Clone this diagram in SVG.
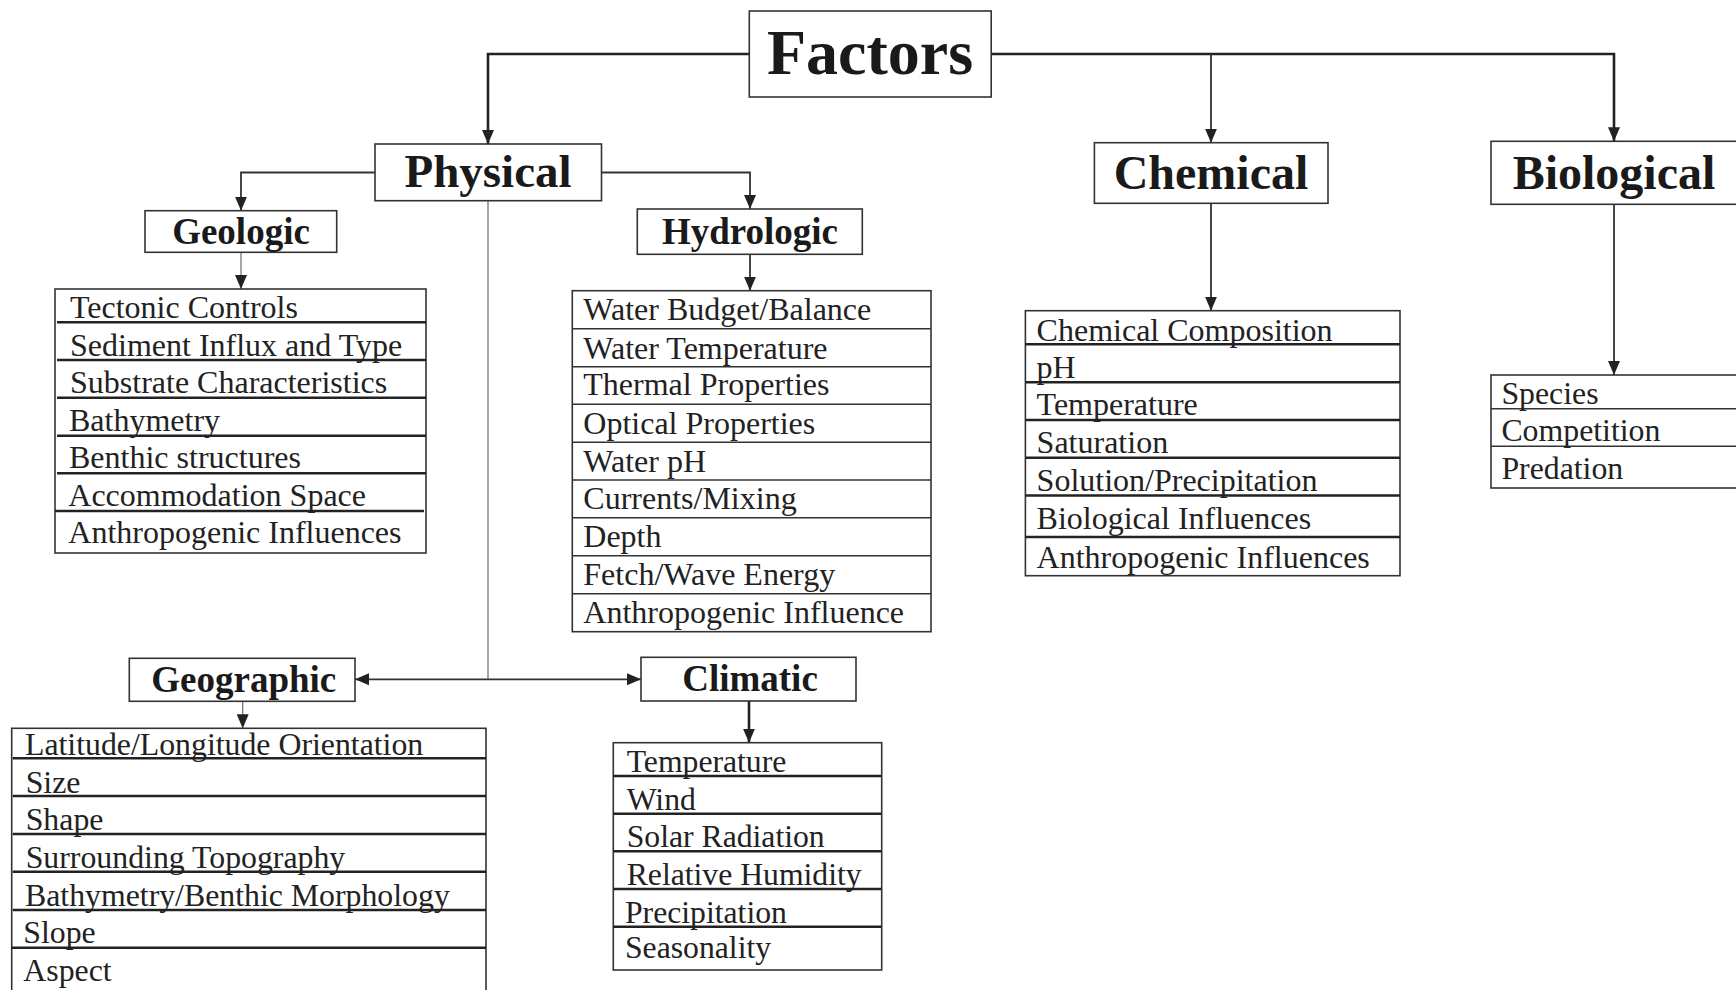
<svg xmlns="http://www.w3.org/2000/svg" width="1736" height="990" viewBox="0 0 1736 990">
<style>
  .box { fill: #fff; stroke: #333; stroke-width: 1.6; }
  .hdr { font-family: "Liberation Serif", "Times New Roman", serif; font-weight: bold; fill: #1a1a1a; text-anchor: middle; }
  .item { font-family: "Liberation Serif", "Times New Roman", serif; fill: #222; }
  .rowT { stroke: #222; stroke-width: 2.6; }
  .rowt { stroke: #333; stroke-width: 1.5; }
  .conn { fill: none; stroke: #333; stroke-width: 1.8; }
  .connT { fill: none; stroke: #222; stroke-width: 2.6; }
  .connL { fill: none; stroke: #777; stroke-width: 1.3; }
</style>
<defs>
  <marker id="arr" viewBox="0 0 14 12" refX="14" refY="6" markerWidth="14" markerHeight="12" markerUnits="userSpaceOnUse" orient="auto">
    <path d="M0,0 L14,6 L0,12 z" fill="#222"/>
  </marker>
</defs>
<rect width="1736" height="990" fill="#fff"/>

<g id="connectors">
  <path class="connT" d="M749.3,54 H488 V144" marker-end="url(#arr)"/>
  <path class="connT" d="M991,54 H1614 V141.3" marker-end="url(#arr)"/>
  <path class="conn" d="M1211,54 V142.7" marker-end="url(#arr)"/>
  <path class="conn" d="M375,172.5 H241 V210.7" marker-end="url(#arr)"/>
  <path class="conn" d="M601.5,172.5 H750 V209" marker-end="url(#arr)"/>
  <path class="connL" d="M241,252.3 V289" marker-end="url(#arr)"/>
  <path class="conn" d="M750,254.3 V290.7" marker-end="url(#arr)"/>
  <path class="connL" d="M488,200.7 V679.3"/>
  <path class="conn" d="M488,679.3 H355" marker-end="url(#arr)"/>
  <path class="conn" d="M488,679.3 H641" marker-end="url(#arr)"/>
  <path class="connL" d="M242.7,701.3 V728.3" marker-end="url(#arr)"/>
  <path class="connT" d="M749,701 V742.7" marker-end="url(#arr)"/>
  <path class="conn" d="M1211,203.3 V310.7" marker-end="url(#arr)"/>
  <path class="conn" d="M1614,204.3 V375" marker-end="url(#arr)"/>
</g>

<g id="factors">
  <rect class="box" x="749.3" y="11" width="241.9" height="86"/>
  <text class="hdr" x="870" y="74" font-size="64">Factors</text>
</g>
<g id="physical">
  <rect class="box" x="375" y="144" width="226.5" height="56.7"/>
  <text class="hdr" x="488" y="186.7" font-size="47">Physical</text>
</g>
<g id="chemical">
  <rect class="box" x="1094.4" y="142.7" width="233.6" height="60.6"/>
  <text class="hdr" x="1211" y="189" font-size="48">Chemical</text>
</g>
<g id="biological">
  <rect class="box" x="1491" y="141.3" width="260" height="63"/>
  <text class="hdr" x="1614" y="189" font-size="48">Biological</text>
</g>
<g id="geologic">
  <rect class="box" x="145" y="210.7" width="191.7" height="41.6"/>
  <text class="hdr" x="241" y="244" font-size="37">Geologic</text>
</g>
<g id="hydrologic">
  <rect class="box" x="637.3" y="209" width="225" height="45.3"/>
  <text class="hdr" x="750" y="244" font-size="37">Hydrologic</text>
</g>
<g id="geographic">
  <rect class="box" x="129.3" y="658.3" width="225.7" height="43"/>
  <text class="hdr" x="243.8" y="691.7" font-size="37">Geographic</text>
</g>
<g id="climatic">
  <rect class="box" x="641" y="657.3" width="215" height="43.7"/>
  <text class="hdr" x="750" y="690.7" font-size="37">Climatic</text>
</g>

<g id="geologic-list">
  <rect class="box" x="55" y="289" width="371" height="264"/>
  <line class="rowT" x1="57" y1="322.3" x2="426" y2="322.3"/>
  <line class="rowT" x1="57" y1="360" x2="426" y2="360"/>
  <line class="rowT" x1="57" y1="397.7" x2="426" y2="397.7"/>
  <line class="rowT" x1="57" y1="435.7" x2="426" y2="435.7"/>
  <line class="rowT" x1="57" y1="473.3" x2="426" y2="473.3"/>
  <line class="rowT" x1="55" y1="511" x2="424" y2="511"/>
  <g class="item" font-size="32">
    <text x="70" y="317.7">Tectonic Controls</text>
    <text x="70" y="355.7">Sediment Influx and Type</text>
    <text x="70" y="392.7">Substrate Characteristics</text>
    <text x="69" y="430.7">Bathymetry</text>
    <text x="69" y="468.3">Benthic structures</text>
    <text x="68.3" y="505.7">Accommodation Space</text>
    <text x="68.3" y="543.3">Anthropogenic Influences</text>
  </g>
</g>

<g id="hydrologic-list">
  <rect class="box" x="572.3" y="290.7" width="358.7" height="341"/>
  <line class="rowt" x1="572.3" y1="328.7" x2="931" y2="328.7"/>
  <line class="rowt" x1="572.3" y1="366.7" x2="931" y2="366.7"/>
  <line class="rowt" x1="572.3" y1="404.3" x2="931" y2="404.3"/>
  <line class="rowt" x1="572.3" y1="442.3" x2="931" y2="442.3"/>
  <line class="rowt" x1="572.3" y1="480" x2="931" y2="480"/>
  <line class="rowt" x1="572.3" y1="517.7" x2="931" y2="517.7"/>
  <line class="rowt" x1="572.3" y1="555.7" x2="931" y2="555.7"/>
  <line class="rowt" x1="572.3" y1="593.7" x2="931" y2="593.7"/>
  <g class="item" font-size="32">
    <text x="583.3" y="320.3">Water Budget/Balance</text>
    <text x="583.3" y="358.7">Water Temperature</text>
    <text x="583.3" y="395.3">Thermal Properties</text>
    <text x="583.3" y="433.7">Optical Properties</text>
    <text x="583.3" y="472">Water pH</text>
    <text x="583.3" y="509.3">Currents/Mixing</text>
    <text x="583.3" y="547">Depth</text>
    <text x="583.3" y="585.3">Fetch/Wave Energy</text>
    <text x="583.3" y="623">Anthropogenic Influence</text>
  </g>
</g>

<g id="chemical-list">
  <rect class="box" x="1025.4" y="310.7" width="374.6" height="265"/>
  <line class="rowT" x1="1025.4" y1="344.3" x2="1400" y2="344.3"/>
  <line class="rowT" x1="1025.4" y1="382.3" x2="1400" y2="382.3"/>
  <line class="rowT" x1="1025.4" y1="420" x2="1400" y2="420"/>
  <line class="rowT" x1="1025.4" y1="457.7" x2="1400" y2="457.7"/>
  <line class="rowT" x1="1025.4" y1="495.5" x2="1400" y2="495.5"/>
  <line class="rowT" x1="1025.4" y1="537" x2="1400" y2="537"/>
  <g class="item" font-size="32">
    <text x="1036.6" y="340.5">Chemical Composition</text>
    <text x="1036.6" y="377.8">pH</text>
    <text x="1036.6" y="414.8">Temperature</text>
    <text x="1036.6" y="452.8">Saturation</text>
    <text x="1036.6" y="490.5">Solution/Precipitation</text>
    <text x="1036.6" y="529">Biological Influences</text>
    <text x="1036.6" y="567.5">Anthropogenic Influences</text>
  </g>
</g>

<g id="biological-list">
  <rect class="box" x="1491" y="375" width="260" height="113"/>
  <line class="rowt" x1="1491" y1="408.7" x2="1736" y2="408.7"/>
  <line class="rowt" x1="1491" y1="446.3" x2="1736" y2="446.3"/>
  <g class="item" font-size="31.8">
    <text x="1501.4" y="404">Species</text>
    <text x="1501.4" y="441.4">Competition</text>
    <text x="1501.4" y="479">Predation</text>
  </g>
</g>

<g id="geographic-list">
  <rect class="box" x="11.7" y="728.3" width="474.3" height="275"/>
  <line class="rowT" x1="12.7" y1="758.3" x2="486" y2="758.3"/>
  <line class="rowT" x1="12.7" y1="796" x2="486" y2="796"/>
  <line class="rowT" x1="12.7" y1="834" x2="486" y2="834"/>
  <line class="rowT" x1="12.7" y1="871.7" x2="486" y2="871.7"/>
  <line class="rowT" x1="12.7" y1="910" x2="486" y2="910"/>
  <line class="rowT" x1="11.7" y1="947.7" x2="486" y2="947.7"/>
  <g class="item" font-size="31.8">
    <text x="25" y="755">Latitude/Longitude Orientation</text>
    <text x="25.7" y="792.7">Size</text>
    <text x="25.7" y="830">Shape</text>
    <text x="25.7" y="867.7">Surrounding Topography</text>
    <text x="25" y="906">Bathymetry/Benthic Morphology</text>
    <text x="23.3" y="943.3">Slope</text>
    <text x="23.3" y="980.7">Aspect</text>
  </g>
</g>

<g id="climatic-list">
  <rect class="box" x="613.3" y="742.7" width="268.4" height="227.3"/>
  <line class="rowT" x1="613.3" y1="776" x2="881.7" y2="776"/>
  <line class="rowT" x1="613.3" y1="813.7" x2="881.7" y2="813.7"/>
  <line class="rowT" x1="613.3" y1="851.3" x2="881.7" y2="851.3"/>
  <line class="rowT" x1="613.3" y1="889" x2="881.7" y2="889"/>
  <line class="rowT" x1="613.3" y1="926.7" x2="881.7" y2="926.7"/>
  <g class="item" font-size="31.7">
    <text x="626.7" y="771.5">Temperature</text>
    <text x="626.7" y="809.8">Wind</text>
    <text x="626.7" y="847.2">Solar Radiation</text>
    <text x="626.7" y="884.8">Relative Humidity</text>
    <text x="625" y="922.5">Precipitation</text>
    <text x="625" y="958.2">Seasonality</text>
  </g>
</g>
</svg>
